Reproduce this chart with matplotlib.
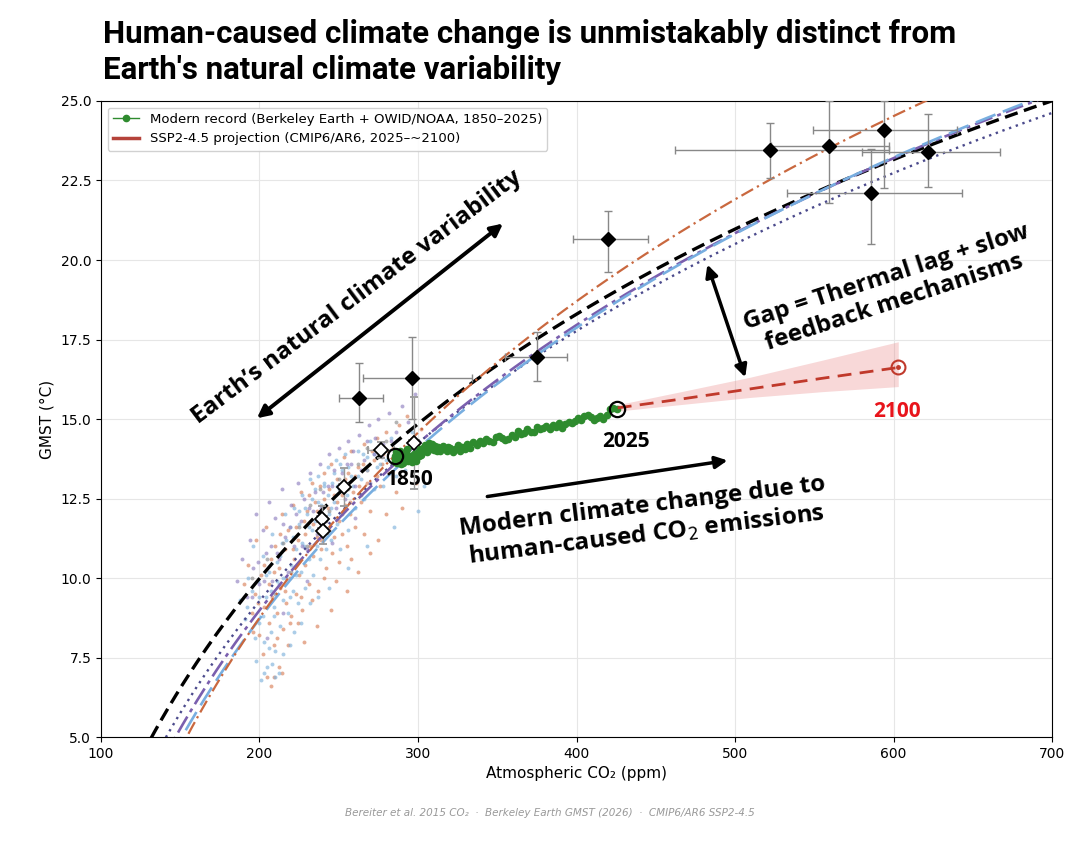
import numpy as np
import matplotlib
matplotlib.use('Agg')
import matplotlib.pyplot as plt

# --- modern record (Berkeley Earth + OWID/NOAA) ---
modern_co2 = [285.2, 285.4, 285.6, 285.8, 286.0, 286.2, 286.4, 286.6, 286.9, 287.1,
              287.3, 287.6, 287.9, 288.2, 288.5, 288.8, 289.1, 289.4, 289.7, 290.0,
              290.3, 290.6, 290.9, 291.2, 291.6, 292.0, 292.4, 292.8, 293.2, 293.6,
              294.0, 294.5, 295.0, 295.5, 296.0, 296.5, 297.0, 297.5, 298.0, 298.6,
              299.2, 299.8, 300.4, 301.0, 301.6, 302.2, 302.8, 303.4, 304.0, 304.6,
              305.2, 305.8, 306.4, 307.0, 307.6, 308.2, 308.8, 309.4, 310.0, 310.6,
              311.2, 311.8, 312.5, 313.2, 314.0, 315.0, 316.0, 317.0, 318.0, 319.0,
              320.5, 322.0, 323.5, 325.0, 326.5, 328.0, 329.5, 331.0, 333.0, 335.0,
              337.0, 339.0, 341.0, 343.0, 345.0, 347.0, 349.0, 351.0, 353.0, 355.0,
              357.0, 359.0, 361.0, 363.0, 365.0, 367.0, 369.0, 371.0, 373.0, 375.0,
              377.0, 379.0, 381.0, 383.0, 385.0, 387.0, 389.0, 391.0, 393.0, 395.0,
              397.0, 399.0, 401.0, 403.0, 405.0, 407.0, 409.0, 411.0, 413.0, 415.0,
              417.0, 419.0, 421.0, 423.0, 425.5]
modern_t = [13.84, 13.72, 13.65, 13.78, 13.70, 13.95, 13.80, 13.62, 13.75, 13.88,
            13.70, 13.92, 13.80, 13.66, 13.74, 13.98, 13.83, 13.60, 13.72, 13.86,
            13.77, 13.63, 13.69, 13.90, 13.82, 13.71, 13.95, 14.05, 13.78, 13.68,
            13.74, 13.85, 13.70, 13.80, 13.66, 13.72, 13.82, 13.90, 13.75, 13.68,
            13.80, 13.95, 13.85, 14.05, 13.92, 13.88, 14.00, 14.10, 13.98, 14.18,
            14.08, 13.95, 14.12, 14.25, 14.15, 14.05, 14.20, 14.10, 14.02, 14.15,
            14.08, 14.00, 14.12, 14.05, 13.98, 14.10, 14.15, 14.05, 14.00, 14.12,
            14.08, 13.95, 14.05, 14.18, 14.00, 14.12, 14.06, 14.22, 14.10, 14.28,
            14.18, 14.30, 14.25, 14.38, 14.30, 14.28, 14.42, 14.48, 14.40, 14.35,
            14.38, 14.50, 14.45, 14.62, 14.52, 14.55, 14.70, 14.58, 14.60, 14.75,
            14.70, 14.72, 14.78, 14.70, 14.80, 14.75, 14.88, 14.72, 14.85, 14.90,
            14.88, 14.95, 15.02, 14.98, 15.10, 15.12, 15.05, 14.98, 15.02, 15.08,
            15.00, 15.12, 15.30, 15.35, 15.32]

# --- SSP2-4.5 projection 2025 -> 2100 ---
proj_co2 = [426, 465, 510, 555, 603]
proj_t = [15.35, 15.62, 15.95, 16.28, 16.62]
proj_lo = [15.25, 15.45, 15.68, 15.86, 16.02]
proj_hi = [15.45, 15.85, 16.32, 16.85, 17.43]

# --- paleo proxies with uncertainty (black diamonds) ---
paleo_co2 = [263, 296, 375, 420, 522, 559, 594, 586, 622]
paleo_t = [15.65, 16.30, 16.95, 20.65, 23.45, 23.60, 24.08, 22.10, 23.40]
paleo_xlo = [250, 265, 355, 398, 462, 523, 549, 533, 580]
paleo_xhi = [278, 334, 394, 445, 597, 597, 640, 643, 667]
paleo_ylo = [14.90, 15.00, 16.20, 19.62, 22.58, 21.80, 22.26, 20.50, 22.30]
paleo_yhi = [16.76, 17.58, 17.75, 21.54, 24.30, 25.00, 25.00, 23.50, 24.60]

# --- ice-core anchors (white diamonds) ---
core_co2 = [276.7, 297.5, 253, 239.4, 240]
core_t = [14.03, 14.25, 12.86, 11.85, 11.48]
core_xerr = [8, 3, 3, 3, 3]
core_yerr = [0.25, 1.45, 0.6, 0.4, 0.4]

# --- equilibrium curves: T = t0 + s * ln(CO2 / 280) ---
curve_t0 = [14.02, 13.40, 13.34, 13.16, 13.58]
curve_s = [11.99, 12.25, 12.94, 13.21, 14.36]
curve_colors = ['black', '#4b4a8c', '#7a5fae', '#78aee0', '#c9683f']
curve_styles = [(0, (4, 2)), (0, (1, 2)), (0, (7, 2, 1.5, 2)), (0, (8, 3)), (0, (6, 2, 1, 2))]
curve_widths = [2.4, 1.7, 1.9, 1.9, 1.6]

# --- glacial/interglacial cloud (hand-read dots) ---
orange_pts = [(190, 9.8), (193, 10.4), (195, 8.9), (197, 9.5), (198, 11.2), (200, 8.2), (201, 10.1),
              (202, 7.6), (203, 9.1), (204, 11.6), (205, 6.9), (206, 8.6), (207, 10.6), (208, 9.4),
              (209, 7.9), (210, 11.0), (211, 8.9), (212, 10.3), (213, 9.7), (214, 12.0), (215, 8.4),
              (216, 10.9), (217, 9.2), (218, 11.5), (219, 10.0), (220, 8.8), (221, 12.3), (222, 10.6),
              (223, 9.5), (224, 11.2), (225, 10.1), (226, 12.7), (227, 9.0), (228, 11.8), (229, 10.4),
              (230, 12.1), (231, 9.8), (232, 11.0), (233, 13.0), (234, 10.7), (235, 12.4), (236, 11.3),
              (237, 9.6), (238, 12.9), (239, 10.9), (240, 11.9), (241, 13.3), (242, 10.3), (243, 12.2),
              (244, 11.5), (245, 13.6), (246, 10.8), (247, 12.6), (248, 11.9), (249, 13.1), (250, 10.5),
              (251, 12.9), (252, 11.4), (253, 13.8), (254, 12.3), (255, 11.0), (256, 13.3), (257, 12.0),
              (258, 14.0), (259, 12.7), (260, 11.6), (262, 13.5), (264, 12.4), (266, 14.2), (268, 13.0),
              (270, 12.1), (272, 13.7), (274, 14.4), (276, 12.9), (278, 13.9), (280, 14.6), (282, 13.3),
              (284, 14.1), (286, 12.7), (288, 14.8), (290, 13.6), (293, 15.1), (296, 14.3), (299, 13.0),
              (302, 14.7), (270, 10.8), (262, 10.2), (255, 9.6), (245, 9.0), (236, 8.5), (228, 8.0),
              (212, 7.2), (207, 6.6), (266, 11.4), (280, 12.0), (248, 9.9), (275, 11.2), (290, 12.2),
              (258, 10.6), (196, 8.3), (199, 9.2), (203, 10.4), (206, 9.8), (209, 10.2), (211, 8.1),
              (213, 11.4), (216, 9.6), (219, 8.6), (221, 10.9), (223, 11.6), (226, 9.4), (229, 11.4),
              (231, 12.6), (234, 11.7), (236, 12.1), (239, 11.2), (241, 12.5), (244, 12.8), (247, 11.3),
              (249, 12.4), (252, 12.6), (254, 13.1), (257, 12.4), (260, 13.2), (263, 12.9), (265, 13.6),
              (268, 13.4), (271, 14.0), (274, 13.2), (277, 13.6), (281, 14.0), (285, 13.8), (218, 7.9),
              (224, 8.6), (214, 7.0), (209, 6.9), (233, 9.3), (241, 10.0), (250, 11.8)]
blue_pts = [(188, 9.3), (191, 8.7), (193, 10.0), (195, 9.6), (196, 11.0), (198, 7.4), (199, 9.9),
            (200, 8.6), (201, 6.8), (202, 10.7), (203, 8.0), (204, 9.4), (205, 7.2), (206, 10.2),
            (207, 8.3), (208, 11.4), (209, 9.1), (210, 7.7), (211, 10.5), (212, 9.8), (213, 8.5),
            (214, 11.1), (215, 9.3), (216, 12.0), (217, 10.0), (218, 8.9), (219, 11.6), (220, 10.4),
            (221, 9.6), (222, 12.2), (223, 10.9), (224, 9.2), (225, 11.7), (226, 10.2), (227, 12.6),
            (228, 11.0), (229, 9.7), (230, 12.0), (231, 10.6), (232, 13.1), (233, 11.5), (234, 10.1),
            (235, 12.8), (236, 11.0), (237, 13.2), (238, 10.6), (239, 12.3), (240, 11.4), (241, 12.9),
            (242, 10.9), (243, 13.5), (244, 12.0), (245, 11.2), (246, 13.0), (247, 12.4), (248, 13.7),
            (249, 11.7), (250, 12.8), (251, 10.9), (252, 13.4), (253, 12.1), (254, 13.9), (255, 12.6),
            (256, 11.5), (258, 13.2), (260, 12.2), (262, 14.0), (264, 13.1), (266, 12.5), (268, 13.8),
            (270, 14.3), (272, 12.8), (274, 13.5), (276, 14.1), (278, 12.9), (280, 13.7), (283, 14.4),
            (286, 13.2), (289, 14.0), (292, 13.4), (296, 14.6), (300, 13.8), (304, 12.9), (210, 6.9),
            (203, 7.0), (215, 7.6), (222, 8.3), (232, 9.2), (244, 9.7), (256, 10.3), (268, 11.0),
            (285, 11.6), (300, 12.1), (192, 9.1), (197, 8.1), (200, 9.4), (202, 8.8), (204, 10.1),
            (207, 9.6), (209, 8.8), (211, 9.9), (213, 10.7), (215, 10.0), (217, 11.2), (219, 9.4),
            (221, 11.3), (223, 10.1), (225, 12.1), (227, 11.1), (229, 12.2), (231, 11.6), (233, 12.5),
            (235, 11.8), (237, 12.4), (239, 11.7), (241, 13.0), (243, 12.6), (245, 12.2), (247, 13.3),
            (249, 12.9), (251, 13.6), (253, 12.7), (256, 13.5), (259, 12.9), (262, 13.2), (265, 13.9),
            (268, 13.4), (272, 13.9), (276, 13.6), (206, 7.8), (208, 7.3), (212, 7.0), (219, 7.9),
            (226, 8.6), (237, 9.4)]
purple_pts = [(186, 9.9), (189, 10.6), (192, 9.4), (194, 11.2), (196, 10.3), (198, 12.0), (200, 9.8),
              (202, 11.5), (204, 10.8), (206, 12.4), (208, 9.9), (210, 11.9), (212, 10.6), (214, 12.8),
              (216, 11.3), (218, 10.2), (220, 12.3), (222, 11.0), (224, 13.0), (226, 11.8), (228, 12.5),
              (230, 10.9), (232, 13.3), (234, 12.1), (236, 11.4), (238, 13.6), (240, 12.7), (242, 11.8),
              (244, 13.9), (246, 12.9), (248, 12.2), (250, 14.1), (252, 13.3), (254, 12.5), (256, 14.3),
              (258, 13.6), (260, 12.9), (263, 14.5), (266, 13.7), (269, 14.8), (272, 13.9), (275, 15.0),
              (278, 14.2), (282, 15.2), (286, 14.6), (290, 15.4), (294, 14.9), (298, 15.8), (270, 13.0),
              (260, 11.9), (246, 11.1), (230, 9.9), (215, 8.9), (205, 8.1), (195, 9.4), (199, 10.5),
              (203, 9.9), (207, 11.0), (211, 10.8), (215, 11.7), (219, 11.6), (223, 12.0), (227, 11.0),
              (231, 12.2), (235, 12.7), (239, 12.2), (243, 12.9), (247, 13.4), (251, 12.8), (255, 13.6),
              (259, 14.0), (264, 13.4), (268, 14.3), (273, 14.4), (277, 13.8), (283, 14.3)]
grey_pts = [(195, 10.0), (205, 10.6), (215, 11.1), (225, 11.6), (232, 12.3), (238, 12.8), (244, 12.1),
            (250, 13.1), (256, 12.8), (262, 13.6), (268, 14.1), (274, 13.8), (280, 14.3), (286, 14.9),
            (210, 9.5), (220, 10.2), (230, 11.0), (240, 11.6), (252, 12.0), (264, 12.6)]
cloud_sets = [orange_pts, blue_pts, purple_pts, grey_pts]
cloud_colors = ['#d9825b', '#7fb2dc', '#9080c0', '#8c8c8c']

GREEN = '#2e8b2e'
RED = '#c0392b'
LEGEND_RED = '#b5433a'
BOLD_FONT = 'Open Sans'

fig = plt.figure(figsize=(10.79, 8.43), dpi=100)
ax = fig.add_axes([0.0936, 0.1257, 0.8814, 0.7545])

for pts, c in zip(cloud_sets, cloud_colors):
    xs, ys = zip(*pts)
    ax.scatter(xs, ys, s=8, color=c, alpha=0.65, linewidths=0, zorder=2)

co2_grid = np.linspace(120, 720, 400)
for t0, s, c, ls, lw in zip(curve_t0, curve_s, curve_colors, curve_styles, curve_widths):
    ax.plot(co2_grid, t0 + s * np.log(co2_grid / 280.0), color=c, linestyle=ls, lw=lw, zorder=3)

# paleo diamonds
px = np.array(paleo_co2)
py = np.array(paleo_t)
ax.errorbar(px, py,
            xerr=[px - np.array(paleo_xlo), np.array(paleo_xhi) - px],
            yerr=[py - np.array(paleo_ylo), np.array(paleo_yhi) - py],
            fmt='D', color='black', ms=7, ecolor='#888888', elinewidth=1, capsize=3, zorder=5)

ax.errorbar(core_co2, core_t, xerr=core_xerr, yerr=core_yerr, fmt='D', mfc='white', mec='black',
            mew=1.3, ms=7, ecolor='#999999', elinewidth=1, capsize=3, zorder=6)

# modern record
ax.plot(modern_co2, modern_t, '-o', color=GREEN, ms=4.5, lw=1, zorder=7,
        label='Modern record (Berkeley Earth + OWID/NOAA, 1850–2025)')

# projection
ax.fill_between(proj_co2, proj_lo, proj_hi, color='#e88080', alpha=0.3, lw=0, zorder=4)
ax.plot(proj_co2, proj_t, color=RED, ls=(0, (5, 3)), lw=2, zorder=8)
ax.plot([], [], color=LEGEND_RED, lw=2.5, label='SSP2-4.5 projection (CMIP6/AR6, 2025–~2100)')
ax.plot(proj_co2[-1], proj_t[-1], 'o', mfc='none', mec=RED, mew=1.5, ms=10, zorder=9)
ax.plot(proj_co2[-1], proj_t[-1], 'o', color=RED, ms=2.5, zorder=9)

# 1850 / 2025 markers
ax.plot(modern_co2[0], modern_t[0], 'o', mfc='none', mec='black', mew=1.6, ms=11, zorder=9)
ax.plot(modern_co2[-1], modern_t[-1], 'o', mfc='none', mec='black', mew=1.6, ms=11, zorder=9)
ax.text(295, 13.1, '1850', fontsize=15, fontweight='bold', ha='center', va='center', family=BOLD_FONT)
ax.text(431, 14.3, '2025', fontsize=15, fontweight='bold', ha='center', va='center', family=BOLD_FONT)
ax.text(602, 15.25, '2100', fontsize=15, fontweight='bold', ha='center', va='center', color='#e8141b',
        family=BOLD_FONT)

# annotations
ax.annotate('', xy=(197, 14.97), xytext=(355, 21.2),
            arrowprops=dict(arrowstyle='<|-|>', lw=2.8, color='black', mutation_scale=18), zorder=10)
ax.text(261.5, 18.84, 'Earth’s natural climate variability', rotation=37, fontsize=17.5,
        fontweight='bold', ha='center', va='center', family=BOLD_FONT, rotation_mode='anchor')

ax.annotate('', xy=(482, 19.94), xytext=(507, 16.23),
            arrowprops=dict(arrowstyle='<|-|>', lw=2.5, color='black', mutation_scale=18), zorder=10)
ax.text(598, 19.05, 'Gap = Thermal lag + slow\nfeedback mechanisms', rotation=18, fontsize=17.5,
        fontweight='bold', ha='center', va='center', family=BOLD_FONT, rotation_mode='anchor',
        linespacing=1.15)

ax.annotate('', xy=(497, 13.71), xytext=(342, 12.55),
            arrowprops=dict(arrowstyle='-|>', lw=2.5, color='black', mutation_scale=18), zorder=10)
ax.text(443, 11.78, 'Modern climate change due to\nhuman-caused CO$_2$ emissions', rotation=7,
        fontsize=17.5, fontweight='bold', ha='center', va='center', family=BOLD_FONT,
        rotation_mode='anchor', linespacing=1.15)

ax.set_xlim(100, 700)
ax.set_ylim(5, 25)
ax.set_xticks(range(100, 701, 100))
ax.set_yticks(np.arange(5, 25.1, 2.5))
ax.yaxis.set_major_formatter(matplotlib.ticker.FormatStrFormatter('%.1f'))
ax.tick_params(labelsize=10)
ax.grid(color='#e6e6e6', lw=0.8, zorder=0)
ax.set_axisbelow(True)
ax.set_xlabel('Atmospheric CO₂ (ppm)', fontsize=11)
ax.set_ylabel('GMST (°C)', fontsize=11)
ax.legend(loc='upper left', fontsize=9.5, framealpha=0.9, handlelength=2)

fig.text(0.0955, 0.978, "Human-caused climate change is unmistakably distinct from\nEarth's natural climate variability",
         fontsize=22.5, fontweight='bold', family='Roboto', va='top', ha='left', linespacing=1.25)
fig.text(0.51, 0.035, 'Bereiter et al. 2015 CO₂  ·  Berkeley Earth GMST (2026)  ·  CMIP6/AR6 SSP2-4.5',
         fontsize=7.5, style='italic', color='#999999', ha='center', va='center')

fig.savefig('out.png', dpi=100)
